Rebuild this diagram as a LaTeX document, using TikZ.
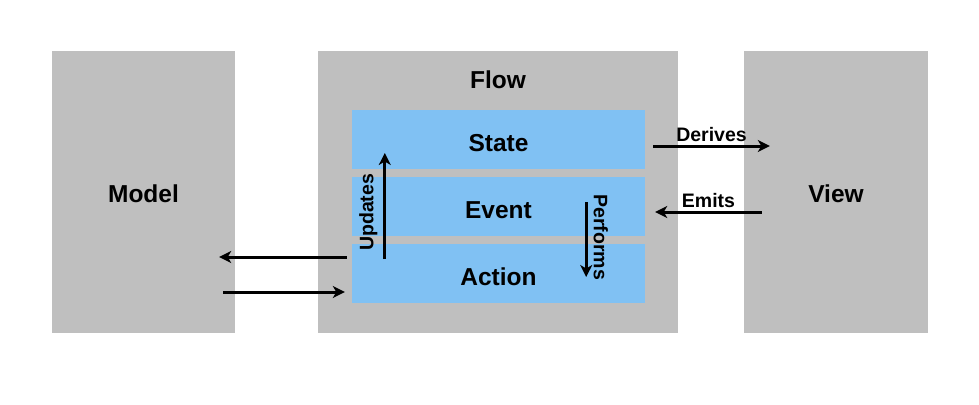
\documentclass[tikz,border=0pt]{standalone}
\usepackage{fontspec}
\setmainfont{Liberation Sans}
\usepackage{xcolor}
\usetikzlibrary{
	arrows.meta,
	positioning,
	calc
}
\definecolor{panelgray}{RGB}{191,191,191}
\definecolor{layerblue}{RGB}{128,193,243}

\begin{document}
\begin{tikzpicture}[
					x=1pt, y=-1pt,
					panel/.style={
							rectangle,
							fill=panelgray,
							draw=none,
							minimum height=282pt,
							inner sep=0pt,
							text height=20.5pt,
							text depth=0pt,
							font=\fontsize{24.5}{28}\selectfont\bfseries
						},
					layer/.style={
							rectangle,
							fill=layerblue,
							draw=none,
							minimum width=293pt,
							minimum height=59pt,
							inner sep=0pt,
							text height=23pt,
							text depth=0pt,
							font=\fontsize{24.5}{28}\selectfont\bfseries
						},
					link/.style={
							line width=3pt,
							-{Stealth[length=12pt,width=12pt,inset=3.5pt]}
						},
					link_label/.style={
							font=\fontsize{19.5}{23}\selectfont\bfseries,
							inner sep=2pt
						}
				]
				\useasboundingbox[fill=white] (0,0) rectangle (979,404);

				\node[panel, minimum width=183pt] (model) at (143.5,192) {Model};
				\node[panel, minimum width=360pt] (flow) at (498,192) {};
				\node[panel, minimum width=184pt] (view) at (836,192) {View};

				\node[font=\fontsize{24.5}{28}\selectfont\bfseries, anchor=base] (flowtitle) at (498,88.3) {Flow};

				\node[layer] (state) at (498.5,139.5) {State};
				\node[layer] (event) at (498.5,206.5) {Event};
				\node[layer] (action) at (498.5,273.5) {Action};

				\draw[link] ([xshift=33pt,yshift=14.5pt]action.west) -- ([xshift=33pt,yshift=-13.5pt]state.west)
				node[link_label, pos=0.44, rotate=90, anchor=south, inner sep=6pt] {Updates};
				\draw[link] ([xshift=-59pt,yshift=4.5pt]event.east) -- ([xshift=-59pt,yshift=-3.5pt]action.east)
				node[link_label, pos=0.47, rotate=-90, anchor=south, inner sep=6pt] {Performs};

				\draw[link] ([xshift=8pt,yshift=-6.5pt]state.east) -- ([xshift=26pt,yshift=46pt]view.west)
				node[link_label, midway, above, yshift=1pt] {Derives};
				\draw[link] ([xshift=18pt,yshift=-20pt]view.west) -- ([xshift=10pt,yshift=-5.5pt]event.east)
				node[link_label, midway, above, yshift=1pt] {Emits};

				\draw[link] ([xshift=-5pt,yshift=16.5pt]action.west) -- ([xshift=-16pt,yshift=-65pt]model.east);
				\draw[link] ([xshift=-12pt,yshift=-100pt]model.east) -- ([xshift=-7pt,yshift=-18.5pt]action.west);
		\end{tikzpicture}
\end{document}
